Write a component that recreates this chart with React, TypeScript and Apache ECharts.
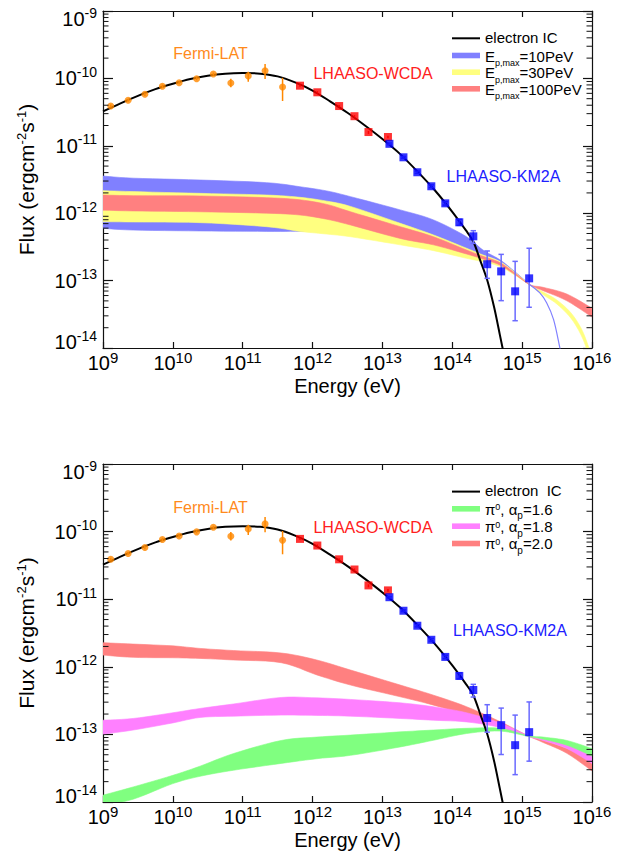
import React, { useEffect, useRef } from "react";
import * as echarts from "echarts";

const FONT = "'Liberation Sans', Arial, Helvetica, sans-serif";
const AXIS = "#111";
const lg = Math.log10;

// ---------- tick labels (exponents of ten) ----------
const xTickExponents = [9, 10, 11, 12, 13, 14, 15, 16];
const yTickExponents = [-14, -13, -12, -11, -10, -9];

// ---------- Fermi-LAT ----------
const fermiE = [1.29e9, 2.29e9, 3.98e9, 7.08e9, 1.23e10, 2.19e10, 3.8e10, 6.76e10, 1.2e11, 2.09e11, 3.72e11];
const fermiF = [3.89e-11, 4.73e-11, 5.81e-11, 7.64e-11, 8.63e-11, 9.91e-11, 1.16e-10, 8.55e-11, 1.09e-10, 1.3e-10, 7.45e-11];
const fermiLo = [3.7e-11, 4.5e-11, 5.5e-11, 7.2e-11, 8.2e-11, 9.4e-11, 1.1e-10, 7.41e-11, 8.93e-11, 9.79e-11, 4.62e-11];
const fermiHi = [4.1e-11, 5.0e-11, 6.1e-11, 8.1e-11, 9.1e-11, 1.04e-10, 1.22e-10, 9.84e-11, 1.26e-10, 1.64e-10, 1.02e-10];

// ---------- LHAASO-WCDA ----------
const wcdaE = [6.61e11, 1.17e12, 2.4e12, 3.98e12, 6.31e12, 1.2e13];
const wcdaF = [7.8e-11, 6.22e-11, 3.89e-11, 2.75e-11, 1.6e-11, 1.35e-11];
const wcdaLo = [7.5e-11, 6.0e-11, 3.75e-11, 2.65e-11, 1.5e-11, 1.29e-11];
const wcdaHi = [8.1e-11, 6.45e-11, 4.03e-11, 2.85e-11, 1.66e-11, 1.41e-11];

// ---------- LHAASO-KM2A ----------
const km2aE = [1.26e13, 2.0e13, 3.16e13, 5.01e13, 7.94e13, 1.26e14, 2.0e14, 3.16e14, 5.01e14, 7.94e14, 1.26e15];
const km2aF = [1.07e-11, 6.75e-12, 4.05e-12, 2.51e-12, 1.4e-12, 7.33e-13, 4.54e-13, 1.75e-13, 1.37e-13, 6.93e-14, 1.08e-13];
const km2aLo = [1.04e-11, 6.55e-12, 3.9e-12, 2.4e-12, 1.32e-12, 6.6e-13, 3.57e-13, 1.08e-13, 5.04e-14, 2.54e-14, 4.02e-14];
const km2aHi = [1.1e-11, 6.95e-12, 4.2e-12, 2.63e-12, 1.48e-12, 8.13e-13, 5.5e-13, 2.75e-13, 2.45e-13, 1.93e-13, 3.02e-13];

// ---------- electron IC model ----------
const icE = [1e9, 1.78e9, 3.16e9, 5.62e9, 1e10, 1.78e10, 3.16e10, 5.62e10, 1e11, 1.78e11, 3.16e11, 5.62e11, 1e12, 1.78e12, 3.16e12, 5.62e12, 1e13, 1.78e13, 3.16e13, 5.62e13, 1e14, 1.58e14, 2.0e14, 2.51e14, 3.16e14, 3.98e14, 4.79e14, 5.75e14];
const icF = [3.24e-11, 4.27e-11, 5.5e-11, 6.92e-11, 8.32e-11, 9.77e-11, 1.096e-10, 1.175e-10, 1.202e-10, 1.175e-10, 1.072e-10, 8.71e-11, 6.61e-11, 4.57e-11, 3.09e-11, 2.0e-11, 1.26e-11, 7.59e-12, 4.17e-12, 2.19e-12, 1.05e-12, 5.5e-13, 3.8e-13, 2.0e-13, 1.02e-13, 3.98e-14, 1.58e-14, 6.3e-15];

// ---------- top panel: pi0 bands for Ep,max ----------
const topBandE = [1e9, 2.7e9, 2.45e10, 2.2e11, 6.6e11, 1.6e12, 3.5e12, 1.8e13, 5.4e13, 1.6e14, 2.75e14, 4.8e14, 7.9e14, 1.29e15];
const ep10Upper = [3.56e-12, 3.31e-12, 3.11e-12, 2.84e-12, 2.47e-12, 2.14e-12, 1.76e-12, 1.12e-12, 7.94e-13, 4.47e-13, 2.84e-13, 2.04e-13, 1.35e-13, 8.71e-14];
const ep10Lower = [5.97e-13, 5.62e-13, 5.45e-13, 5.37e-13, 5.37e-13, 5.25e-13, 5.01e-13, 4.17e-13, 3.55e-13, 2.82e-13, 2.4e-13, 1.95e-13, 1.32e-13, 8.61e-14];
const ep30Upper = [2.16e-12, 2.09e-12, 1.97e-12, 1.86e-12, 1.72e-12, 1.51e-12, 1.26e-12, 7.08e-13, 4.75e-13, 3.02e-13, 2.4e-13, 1.91e-13, 1.32e-13, 8.71e-14];
const ep30Lower = [7.48e-13, 7.41e-13, 7.24e-13, 6.31e-13, 5.37e-13, 4.9e-13, 4.47e-13, 3.39e-13, 2.78e-13, 2.14e-13, 1.91e-13, 1.62e-13, 1.2e-13, 8.61e-14];
const ep100Upper = [1.86e-12, 1.82e-12, 1.8e-12, 1.7e-12, 1.58e-12, 1.35e-12, 1.05e-12, 6.31e-13, 4.47e-13, 2.84e-13, 2.29e-13, 1.85e-13, 1.29e-13, 8.71e-14];
const ep100Lower = [1.11e-12, 1.08e-12, 1.05e-12, 1.0e-12, 9.4e-13, 8.13e-13, 6.68e-13, 4.22e-13, 3.39e-13, 2.48e-13, 2.09e-13, 1.7e-13, 1.23e-13, 8.61e-14];
const ep10TailE = [1.29e15, 1.78e15, 2.24e15, 2.82e15, 3.47e15, 3.72e15];
const ep10TailF = [8.71e-14, 6.61e-14, 4.68e-14, 2.63e-14, 1.0e-14, 7.08e-15];
const ep30TailE = [1.29e15, 2.0e15, 3.16e15, 5.01e15, 7.08e15, 8.91e15, 1e16];
const ep30TailUpper = [8.71e-14, 6.76e-14, 5.13e-14, 3.31e-14, 1.91e-14, 1.05e-14, 7.08e-15];
const ep30TailLower = [8.61e-14, 6.17e-14, 4.47e-14, 2.75e-14, 1.51e-14, 7.94e-15, 5.01e-15];
const ep100TailE = [1.29e15, 2.0e15, 4.37e15, 1e16];
const ep100TailUpper = [8.71e-14, 7.94e-14, 6.31e-14, 3.89e-14];
const ep100TailLower = [8.61e-14, 7.08e-14, 5.01e-14, 2.88e-14];

// ---------- bottom panel: pi0 bands for alpha_p ----------
const botBandE = [1e9, 2.7e9, 1e10, 2.45e10, 7.4e10, 3.55e11, 1.15e12, 3.5e12, 1.8e13, 5.4e13, 1.6e14, 4.8e14, 1.23e15];
const a20Upper = [2.27e-12, 2.17e-12, 2.04e-12, 1.87e-12, 1.74e-12, 1.6e-12, 1.26e-12, 8.95e-13, 5.37e-13, 3.8e-13, 2.57e-13, 1.55e-13, 9.55e-14];
const a20Lower = [1.49e-12, 1.38e-12, 1.36e-12, 1.33e-12, 1.26e-12, 1.15e-12, 7.59e-13, 5.37e-13, 3.6e-13, 2.71e-13, 1.93e-13, 1.29e-13, 9.33e-14];
const a18Upper = [1.62e-13, 1.72e-13, 2.09e-13, 2.42e-13, 2.82e-13, 3.52e-13, 3.47e-13, 3.29e-13, 2.93e-13, 2.56e-13, 2.09e-13, 1.48e-13, 9.55e-14];
const a18Lower = [1.01e-13, 1.16e-13, 1.48e-13, 1.78e-13, 1.86e-13, 1.93e-13, 1.91e-13, 1.86e-13, 1.72e-13, 1.62e-13, 1.53e-13, 1.27e-13, 9.33e-14];
const a16Upper = [1.26e-14, 1.67e-14, 2.48e-14, 3.39e-14, 5.21e-14, 8.13e-14, 9.12e-14, 9.77e-14, 1.09e-13, 1.16e-13, 1.23e-13, 1.23e-13, 9.55e-14];
const a16Lower = [8.91e-15, 1.1e-14, 1.87e-14, 2.4e-14, 2.95e-14, 3.72e-14, 4.37e-14, 4.9e-14, 6.53e-14, 8.2e-14, 1.03e-13, 1.12e-13, 9.33e-14];
const botTailE = [1.23e15, 2.0e15, 4.37e15, 1e16];
const a20TailUpper = [9.55e-14, 8.13e-14, 6.17e-14, 4.05e-14];
const a20TailLower = [9.33e-14, 7.59e-14, 5.25e-14, 2.88e-14];
const a18TailUpper = [9.55e-14, 8.51e-14, 7.16e-14, 4.9e-14];
const a18TailLower = [9.33e-14, 8.13e-14, 6.17e-14, 3.72e-14];
const a16TailUpper = [9.55e-14, 9.12e-14, 8.13e-14, 6.17e-14];
const a16TailLower = [9.33e-14, 8.51e-14, 6.92e-14, 4.79e-14];

const C_BLUE = "#8080ff";
const C_YELLOW = "#ffff80";
const C_RED = "#ff8080";
const C_GREEN = "#80ff80";
const C_MAGENTA = "#ff80ff";

type Band = { e: number[]; upper: number[]; lower: number[] };
function joinBand(e: number[], up: number[], lo: number[], te: number[], tu: number[], tl: number[]): Band {
  return { e: [...e, ...te.slice(1)], upper: [...up, ...tu.slice(1)], lower: [...lo, ...tl.slice(1)] };
}

// Catmull-Rom interpolation of screen points (display smoothing only)
function smoothPath(p: number[][], steps = 6): number[][] {
  if (p.length < 3) return p;
  const out: number[][] = [];
  for (let i = 0; i < p.length - 1; i++) {
    const p0 = p[Math.max(0, i - 1)], p1 = p[i], p2 = p[i + 1], p3 = p[Math.min(p.length - 1, i + 2)];
    for (let s = 0; s < steps; s++) {
      const t = s / steps, t2 = t * t, t3 = t2 * t;
      const f = (a: number, b: number, c: number, d: number) =>
        0.5 * (2 * b + (-a + c) * t + (2 * a - 5 * b + 4 * c - d) * t2 + (-a + 3 * b - 3 * c + d) * t3);
      out.push([f(p0[0], p1[0], p2[0], p3[0]), f(p0[1], p1[1], p2[1], p3[1])]);
    }
  }
  out.push(p[p.length - 1]);
  return out;
}

function bandSeries(band: Band, color: string, panel: number, name: string) {
  return {
    name,
    type: "custom",
    xAxisIndex: panel * 2,
    yAxisIndex: panel * 2,
    z: 1,
    silent: true,
    clip: true,
    data: [[12, -12]],
    encode: { x: 0, y: 1 },
    renderItem: (params: any, api: any) => {
      const up: number[][] = [];
      const lo: number[][] = [];
      for (let i = 0; i < band.e.length; i++) up.push(api.coord([lg(band.e[i]), lg(band.upper[i])]));
      for (let i = 0; i < band.e.length; i++) lo.push(api.coord([lg(band.e[i]), lg(band.lower[i])]));
      const pts = [...smoothPath(up), ...smoothPath(lo).reverse()];
      const cs = params.coordSys;
      return {
        type: "polygon",
        shape: { points: pts },
        style: { fill: color, stroke: color, lineWidth: 0.6 },
        clipPath: { type: "rect", shape: { x: cs.x, y: cs.y, width: cs.width, height: cs.height } },
      };
    },
  };
}

function errSeries(E: number[], lo: number[], hi: number[], color: string, cap: number, panel: number) {
  return {
    type: "custom",
    xAxisIndex: panel * 2,
    yAxisIndex: panel * 2,
    z: 4,
    silent: true,
    data: E.map((e, i) => [lg(e), lg(lo[i]), lg(hi[i])]),
    encode: { x: 0, y: [1, 2] },
    renderItem: (_p: any, api: any) => {
      const x = api.value(0);
      const a = api.coord([x, api.value(1)]);
      const b = api.coord([x, api.value(2)]);
      const st = { stroke: color, lineWidth: 1.5 };
      const children: any[] = [{ type: "line", shape: { x1: a[0], y1: a[1], x2: b[0], y2: b[1] }, style: st }];
      if (cap > 0) {
        children.push({ type: "line", shape: { x1: a[0] - cap, y1: a[1], x2: a[0] + cap, y2: a[1] }, style: st });
        children.push({ type: "line", shape: { x1: b[0] - cap, y1: b[1], x2: b[0] + cap, y2: b[1] }, style: st });
      }
      return { type: "group", children };
    },
  };
}

function minorTickSeries(panel: number) {
  const vals: number[] = [];
  for (let n = yTickExponents[0]; n < yTickExponents[yTickExponents.length - 1]; n++)
    for (let k = 2; k <= 9; k++) vals.push(n + Math.log10(k));
  return {
    type: "custom",
    xAxisIndex: panel * 2,
    yAxisIndex: panel * 2,
    z: 6,
    silent: true,
    data: vals.map((v) => [12, v]),
    encode: { x: 0, y: 1 },
    renderItem: (_p: any, api: any) => {
      const v = api.value(1);
      const l = api.coord([9, v]);
      const r = api.coord([16, v]);
      const st = { stroke: AXIS, lineWidth: 1 };
      return {
        type: "group",
        children: [
          { type: "line", shape: { x1: l[0], y1: l[1], x2: l[0] + 5.5, y2: l[1] }, style: st },
          { type: "line", shape: { x1: r[0] - 5.5, y1: r[1], x2: r[0], y2: r[1] }, style: st },
        ],
      };
    },
  };
}

const xRich = {
  b: { fontFamily: FONT, fontSize: 20, lineHeight: 20, verticalAlign: "bottom", color: "#000" },
  s: { fontFamily: FONT, fontSize: 15, lineHeight: 15, padding: [0, 0, 8, 0], verticalAlign: "bottom", color: "#000" },
};
const yRich = {
  b: { fontFamily: FONT, fontSize: 20, lineHeight: 20, verticalAlign: "bottom", color: "#000" },
  s: { fontFamily: FONT, fontSize: 14, lineHeight: 14, padding: [0, 0, 9.5, 0], verticalAlign: "bottom", color: "#000" },
  bt: { fontFamily: FONT, fontSize: 20, lineHeight: 36, verticalAlign: "bottom", color: "#000" },
  st: { fontFamily: FONT, fontSize: 14, lineHeight: 14, padding: [0, 0, 9.5, 0], verticalAlign: "bottom", color: "#000" },
  bb: { fontFamily: FONT, fontSize: 20, lineHeight: 20, padding: [0, 0, 6, 0], verticalAlign: "bottom", color: "#000" },
  sb: { fontFamily: FONT, fontSize: 14, lineHeight: 14, padding: [0, 0, 15.5, 0], verticalAlign: "bottom", color: "#000" },
};

function xAxes(g: number) {
  const line = { show: true, onZero: false, lineStyle: { color: AXIS, width: 1.2 } };
  const tick = { show: true, inside: true, length: 6, lineStyle: { color: AXIS, width: 1.2 } };
  const min = xTickExponents[0];
  const max = xTickExponents[xTickExponents.length - 1];
  return [
    {
      type: "value", gridIndex: g, position: "bottom", min, max, interval: 1,
      axisLine: line, axisTick: tick, splitLine: { show: false },
      axisLabel: {
        show: true, margin: 5, showMinLabel: true, showMaxLabel: true, color: "#000",
        formatter: (v: number) => `{b|10}{s|${Math.round(v)}}`, rich: xRich,
      },
      name: "Energy (eV)", nameLocation: "middle", nameGap: 28,
      nameTextStyle: { fontFamily: FONT, fontSize: 20, lineHeight: 20, color: "#000" },
    },
    {
      type: "value", gridIndex: g, position: "top", min, max, interval: 1,
      axisLine: line, axisTick: tick, splitLine: { show: false }, axisLabel: { show: false },
    },
  ];
}

function yAxes(g: number) {
  const line = { show: true, onZero: false, lineStyle: { color: AXIS, width: 1.2 } };
  const min = yTickExponents[0];
  const max = yTickExponents[yTickExponents.length - 1];
  return [
    {
      type: "value", gridIndex: g, position: "left", min, max, interval: 1,
      axisLine: line, axisTick: { show: true, inside: true, length: 10, lineStyle: { color: AXIS, width: 1.2 } },
      splitLine: { show: false },
      axisLabel: {
        show: true, margin: 6, showMinLabel: true, showMaxLabel: true, color: "#000",
        formatter: (v: number) => {
          const n = Math.round(v);
          if (n === max) return `{bt|10}{st|${n}}`;
          if (n === min) return `{bb|10}{sb|${n}}`;
          return `{b|10}{s|${n}}`;
        },
        rich: yRich,
      },
      name: "{b|Flux (ergcm}{s|-2}{b|s}{s|-1}{b|)}", nameLocation: "middle", nameGap: 66,
      nameTextStyle: {
        color: "#000",
        rich: {
          b: { fontFamily: FONT, fontSize: 21, lineHeight: 21, verticalAlign: "bottom", color: "#000" },
          s: { fontFamily: FONT, fontSize: 13, lineHeight: 13, padding: [0, 0, 9, 0], verticalAlign: "bottom", color: "#000" },
        },
      },
    },
    {
      type: "value", gridIndex: g, position: "right", min, max, interval: 1,
      axisLine: line, axisTick: { show: true, inside: true, length: 9, lineStyle: { color: AXIS, width: 1.2 } },
      splitLine: { show: false }, axisLabel: { show: false },
    },
  ];
}

function text(x: number, y: number, t: string, color: string, size = 16, align = "center") {
  return {
    type: "text", z: 20, silent: true,
    style: {
      text: t, x, y, fill: color, fontFamily: FONT, fontSize: size,
      align, verticalAlign: "middle", textAlign: align, textVerticalAlign: "middle",
    },
  };
}

const legRich = {
  n: { fontFamily: FONT, fontSize: 15, lineHeight: 15, padding: [0, 0, 4, 0], verticalAlign: "bottom", fill: "#000", color: "#000" },
  sb: { fontFamily: FONT, fontSize: 9, lineHeight: 9, verticalAlign: "bottom", fill: "#000", color: "#000" },
  sb2: { fontFamily: FONT, fontSize: 10, lineHeight: 10, verticalAlign: "bottom", fill: "#000", color: "#000" },
  sp: { fontFamily: FONT, fontSize: 9, lineHeight: 9, padding: [0, 0, 9, 0], verticalAlign: "bottom", fill: "#000", color: "#000" },
};

function richText(x: number, y: number, t: string) {
  return {
    type: "text", z: 20, silent: true,
    style: { text: t, x, y, rich: legRich, align: "left", verticalAlign: "middle", textAlign: "left", textVerticalAlign: "middle", fill: "#000" },
  };
}

function swatch(y: number, color: string) {
  return { type: "rect", z: 20, silent: true, shape: { x: 452, y: y - 2.8, width: 28, height: 5.6 }, style: { fill: color } };
}

function buildOption() {
  const topIC = icE.map((e, i) => [lg(e), lg(icF[i])]);
  const ep10 = joinBand(topBandE, ep10Upper, ep10Lower, [ep10TailE[0]], [ep10TailF[0]], [ep10TailF[0]]);
  const ep30 = joinBand(topBandE, ep30Upper, ep30Lower, ep30TailE, ep30TailUpper, ep30TailLower);
  const ep100 = joinBand(topBandE, ep100Upper, ep100Lower, ep100TailE, ep100TailUpper, ep100TailLower);
  const a20 = joinBand(botBandE, a20Upper, a20Lower, botTailE, a20TailUpper, a20TailLower);
  const a18 = joinBand(botBandE, a18Upper, a18Lower, botTailE, a18TailUpper, a18TailLower);
  const a16 = joinBand(botBandE, a16Upper, a16Lower, botTailE, a16TailUpper, a16TailLower);

  const series: any[] = [];
  series.push(bandSeries(ep10, C_BLUE, 0, "Ep,max=10PeV"));
  series.push({
    type: "line", xAxisIndex: 0, yAxisIndex: 0, z: 1, silent: true, showSymbol: false, symbol: "none",
    data: ep10TailE.map((e, i) => [lg(e), lg(ep10TailF[i])]), lineStyle: { color: C_BLUE, width: 1.2 }, smooth: 0.3,
  });
  series.push(bandSeries(ep30, C_YELLOW, 0, "Ep,max=30PeV"));
  series.push(bandSeries(ep100, C_RED, 0, "Ep,max=100PeV"));
  series.push(bandSeries(a20, C_RED, 1, "alpha=2.0"));
  series.push(bandSeries(a18, C_MAGENTA, 1, "alpha=1.8"));
  series.push(bandSeries(a16, C_GREEN, 1, "alpha=1.6"));

  for (const p of [0, 1]) {
    series.push({
      name: "electron IC", type: "line", xAxisIndex: p * 2, yAxisIndex: p * 2, z: 3, silent: true,
      showSymbol: false, symbol: "none", smooth: 0.3, data: topIC, lineStyle: { color: "#000", width: 2 },
    });
    series.push(errSeries(fermiE, fermiLo, fermiHi, "#ff8800", 0, p));
    series.push(errSeries(wcdaE, wcdaLo, wcdaHi, "#ff0000", 0, p));
    series.push(errSeries(km2aE, km2aLo, km2aHi, "#6a6aff", 2.7, p));
    series.push({
      name: "Fermi-LAT", type: "scatter", xAxisIndex: p * 2, yAxisIndex: p * 2, z: 5, silent: true,
      symbol: "circle", symbolSize: 7, itemStyle: { color: "#ff8800" },
      data: fermiE.map((e, i) => [lg(e), lg(fermiF[i])]),
    });
    series.push({
      name: "LHAASO-WCDA", type: "scatter", xAxisIndex: p * 2, yAxisIndex: p * 2, z: 5, silent: true,
      symbol: "rect", symbolSize: 8, itemStyle: { color: "#ff0000" },
      data: wcdaE.map((e, i) => [lg(e), lg(wcdaF[i])]),
    });
    series.push({
      name: "LHAASO-KM2A", type: "scatter", xAxisIndex: p * 2, yAxisIndex: p * 2, z: 5, silent: true,
      symbol: "rect", symbolSize: 8, itemStyle: { color: "#0000ff" },
      data: km2aE.map((e, i) => [lg(e), lg(km2aF[i])]),
    });
    series.push(minorTickSeries(p));
  }

  const off = 453.3;
  const graphic: any[] = [
    text(210.5, 53, "Fermi-LAT", "#ff8a1c"),
    text(373, 73.5, "LHAASO-WCDA", "#ff2020"),
    text(503.5, 176.5, "LHAASO-KM2A", "#2020ff"),
    { type: "line", z: 20, silent: true, shape: { x1: 452, y1: 38.3, x2: 480, y2: 38.3 }, style: { stroke: "#000", lineWidth: 2 } },
    text(485, 37.5, "electron IC", "#000", 15, "left"),
    swatch(55.5, C_BLUE),
    richText(485, 60, "{n|E}{sb|p,max}{n|=10PeV}"),
    swatch(72.2, C_YELLOW),
    richText(485, 76.7, "{n|E}{sb|p,max}{n|=30PeV}"),
    swatch(88.8, C_RED),
    richText(485, 93.4, "{n|E}{sb|p,max}{n|=100PeV}"),
    text(210.5, 507.5, "Fermi-LAT", "#ff8a1c"),
    text(373, 527, "LHAASO-WCDA", "#ff2020"),
    text(510, 630.5, "LHAASO-KM2A", "#2020ff"),
    { type: "line", z: 20, silent: true, shape: { x1: 452, y1: 38.3 + off, x2: 480, y2: 38.3 + off }, style: { stroke: "#000", lineWidth: 2 } },
    text(485, 490.8, "electron  IC", "#000", 15, "left"),
    swatch(508.8, C_GREEN),
    richText(485, 513.4, "{n|π}{sp|0}{n|, α}{sb2|p}{n|=1.6}"),
    swatch(526.2, C_MAGENTA),
    richText(485, 530.7, "{n|π}{sp|0}{n|, α}{sb2|p}{n|=1.8}"),
    swatch(543.5, C_RED),
    richText(485, 547.7, "{n|π}{sp|0}{n|, α}{sb2|p}{n|=2.0}"),
  ];

  return {
    animation: false,
    backgroundColor: "#fff",
    grid: [
      { left: 103, top: 11, width: 489, height: 337, outerBoundsMode: "none", containLabel: false },
      { left: 103, top: 464, width: 489, height: 338, outerBoundsMode: "none", containLabel: false },
    ],
    xAxis: [...xAxes(0), ...xAxes(1)],
    yAxis: [...yAxes(0), ...yAxes(1)],
    series,
    graphic,
  };
}

export default function App() {
  const ref = useRef<HTMLDivElement>(null);
  useEffect(() => {
    if (!ref.current) return;
    const chart = echarts.init(ref.current, undefined, { renderer: "svg" });
    chart.setOption(buildOption() as any);
    return () => chart.dispose();
  }, []);
  return <div ref={ref} style={{ position: "absolute", left: 0, top: 0, width: 624, height: 864 }} />;
}
